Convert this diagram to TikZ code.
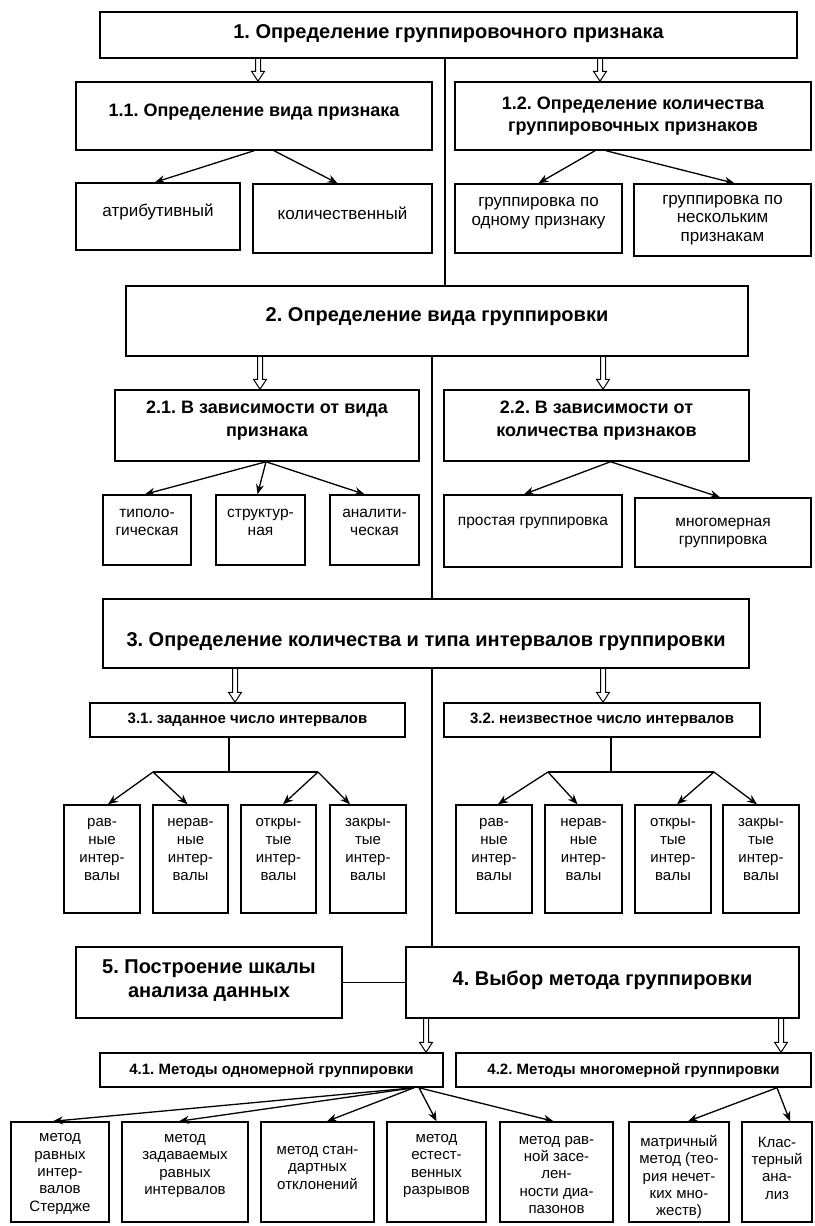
\documentclass[tikz,border=0pt]{standalone}
\usepackage{fontspec}
\setmainfont{Liberation Sans}
\frenchspacing
\usetikzlibrary{arrows.meta,calc}
\tikzset{
 box/.style={draw, line width=1.5pt, inner sep=0pt},
 txt/.style={align=center, inner sep=0pt},
 hA/.style={font=\bfseries\fontsize{20}{24}\selectfont},
 hB/.style={font=\bfseries\fontsize{18}{22.5}\selectfont},
 hC/.style={font=\bfseries\fontsize{15}{18}\selectfont},
 la/.style={font=\fontsize{17}{18.8}\selectfont},
 lc/.style={font=\fontsize{15.5}{18}\selectfont},
 li/.style={font=\fontsize{15}{18}\selectfont},
 le/.style={font=\fontsize{15}{17.3}\selectfont},
 con/.style={line width=1.3pt},
 arr/.style={con, -{Stealth[length=10pt,width=8pt]}},
 hol/.style={line width=1pt, line join=miter},
}
% #1 style, #2 name, #3 x1, #4 y1, #5 x2, #6 y2, #7 text shift down, #8 text
\newcommand{\bx}[8][]{%
 \node[box, minimum width={(#5-#3)*1pt}, minimum height={(#6-#4)*1pt}] (#2) at ({(#3+#5)/2},{(#4+#6)/2}) {};
 \node[txt,#1] (#2-t) at ([yshift={-1pt*(#7)}]#2.center) {#8};
}
% hollow arrow from node #1 to node #2 at x of coordinate #3
\newcommand{\harr}[3]{%
 \draw[hol] ($(#1.south -| #3)+(-2.5,0)$) -- ($(#2.north -| #3)+(-2.5,-10)$) -- ($(#2.north -| #3)+(-6.5,-10)$) -- (#2.north -| #3) -- ($(#2.north -| #3)+(6.5,-10)$) -- ($(#2.north -| #3)+(2.5,-10)$) -- ($(#1.south -| #3)+(2.5,0)$);}
\begin{document}
\begin{tikzpicture}[x=1pt,y=-1pt]
\useasboundingbox (0,0) rectangle (814,1226);
% level 1
\bx[hA]{b1}{100}{12}{797}{58}{-1}{1. Определение группировочного признака}
\bx[hB]{b11}{76}{82}{432}{150}{-4}{1.1. Определение вида признака}
\bx[hB]{b12}{455}{82}{811}{150}{0}{1.2. Определение количества\\группировочных признаков}
\bx[la]{a1}{76}{183}{240}{250}{-5}{атрибутивный}
\bx[la]{a2}{253}{184}{432}{253}{-5}{количественный}
\bx[la]{a3}{455}{184}{622}{253}{-5}{группировка по\\одному признаку}
\bx[la]{a4}{634}{184}{811}{256}{0}{группировка по\\нескольким\\признакам}
% level 2
\bx[hA]{b2}{126}{286}{748}{356}{-4}{2. Определение вида группировки}
\bx[hB]{b21}{115}{390}{419}{461}{-5}{2.1. В зависимости от вида\\признака}
\bx[hB]{b22}{444}{390}{749}{461}{-5}{2.2. В зависимости от\\количества признаков}
\bx[lc]{c1}{103}{495}{191}{565}{-8}{типоло-\\гическая}
\bx[lc]{c2}{216}{495}{305}{565}{-8}{структур-\\ная}
\bx[lc]{c3}{330}{495}{419}{565}{-8}{аналити-\\ческая}
\bx[lc]{c4}{444}{495}{622}{567}{-8}{простая группировка}
\bx[lc]{c5}{635}{498}{811}{567}{0}{многомерная\\группировка}
% level 3
\bx[hA]{b3}{103}{599}{749}{668}{8}{3. Определение количества и типа интервалов группировки}
\bx[hC]{b31}{90}{703}{405}{737}{0}{3.1. заданное число интервалов}
\bx[hC]{b32}{444}{703}{760}{737}{0}{3.2. неизвестное число интервалов}
\bx[li]{i1}{64}{805}{140}{913}{-9}{рав-\\ные\\интер-\\валы}
\bx[li]{i2}{153}{805}{228}{913}{-9}{нерав-\\ные\\интер-\\валы}
\bx[li]{i3}{241}{805}{316}{913}{-9}{откры-\\тые\\интер-\\валы}
\bx[li]{i4}{330}{805}{406}{913}{-9}{закры-\\тые\\интер-\\валы}
\bx[li]{j1}{456}{805}{532}{913}{-9}{рав-\\ные\\интер-\\валы}
\bx[li]{j2}{545}{805}{622}{913}{-9}{нерав-\\ные\\интер-\\валы}
\bx[li]{j3}{635}{805}{711}{913}{-9}{откры-\\тые\\интер-\\валы}
\bx[li]{j4}{723}{805}{799}{913}{-9}{закры-\\тые\\интер-\\валы}
% level 4/5
\bx[hA]{b5}{76}{947}{342}{1018}{-2}{5. Построение шкалы\\анализа данных}
\bx[hA]{b4}{406}{947}{799}{1018}{-2}{4. Выбор метода группировки}
\bx[hC]{b41}{100}{1053}{443}{1087}{0}{4.1. Методы одномерной группировки}
\bx[hC]{b42}{456}{1053}{811}{1087}{0}{4.2. Методы многомерной группировки}
\bx[le]{e1}{11}{1122}{109}{1222}{2}{метод\\равных\\интер-\\валов\\Стердже}
\bx[le]{e2}{122}{1122}{248}{1222}{-6}{метод\\задаваемых\\равных\\интервалов}
\bx[le]{e3}{261}{1122}{374}{1222}{-4}{метод стан-\\дартных\\отклонений}
\bx[le]{e4}{387}{1122}{486}{1222}{-6}{метод\\естест-\\венных\\разрывов}
\bx[le]{e5}{500}{1122}{613}{1222}{3}{метод рав-\\ной засе-\\лен-\\ности диа-\\пазонов}
\bx[le]{e6}{629}{1122}{729}{1222}{5}{матричный\\метод (тео-\\рия нечет-\\ких мно-\\жеств)}
\bx[le]{e7}{742}{1122}{812}{1222}{-4}{Клас-\\терный\\ана-\\лиз}
% helper coordinates
\coordinate (m1) at (445,0);
\coordinate (m2) at (432,0);
\coordinate (h1) at (258,0);
\coordinate (h2) at (600,0);
\coordinate (h3) at (260,0);
\coordinate (h4) at (603,0);
\coordinate (h5) at (235,0);
\coordinate (h6) at (603,0);
\coordinate (h7) at (426,0);
\coordinate (h8) at (781,0);
% central line
\draw[con] (b1.south -| m1) -- (b2.north -| m1);
\draw[con] (b2.south -| m2) -- (b3.north -| m2);
\draw[con] (b3.south -| m2) -- (b4.north -| m2);
\draw[con] (b5.east) -- (b4.west);
% hollow arrows
\harr{b1}{b11}{h1}
\harr{b1}{b12}{h2}
\harr{b2}{b21}{h3}
\harr{b2}{b22}{h4}
\harr{b3}{b31}{h5}
\harr{b3}{b32}{h6}
\harr{b4}{b41}{h7}
\harr{b4}{b42}{h8}
% level 1 arrows
\draw[arr] (b11.south) -- ([xshift=-3pt]a1.north);
\draw[arr] ([xshift=20pt]b11.south) -- ([xshift=-5pt]a2.north);
\draw[arr] ([xshift=-38pt]b12.south) -- (a3.north);
\draw[arr] ([xshift=-27pt]b12.south) -- ([xshift=12pt]a4.north);
% level 2 arrows
\draw[arr] ([xshift=-1pt]b21.south) -- ([xshift=-2pt]c1.north);
\draw[arr] ([xshift=-1pt]b21.south) -- ([xshift=-3pt]c2.north);
\draw[arr] ([xshift=-1pt]b21.south) -- ([xshift=-10pt]c3.north);
\draw[arr] ([xshift=14pt]b22.south) -- ([xshift=-9pt]c4.north);
\draw[arr] ([xshift=14pt]b22.south) -- ([xshift=-3pt]c5.north);
% level 3 forks
\coordinate (k1) at (229,772);
\coordinate (f1) at (153,772);
\coordinate (f2) at (318,772);
\draw[con] (b31.south -| k1) -- (k1);
\draw[con] (f1) -- (f2);
\draw[arr] (f1) -- ([xshift=6pt]i1.north);
\draw[arr] (f1) -- ([xshift=-3pt]i2.north);
\draw[arr] (f2) -- ([xshift=4.5pt]i3.north);
\draw[arr] (f2) -- ([xshift=-18pt]i4.north);
\coordinate (k2) at (611,772);
\coordinate (f3) at (548,772);
\coordinate (f4) at (714,772);
\draw[con] (b32.south -| k2) -- (k2);
\draw[con] (f3) -- (f4);
\draw[arr] (f3) -- ([xshift=4pt]j1.north);
\draw[arr] (f3) -- ([xshift=-6pt]j2.north);
\draw[arr] (f4) -- ([xshift=4pt]j3.north);
\draw[arr] (f4) -- ([xshift=-4pt]j4.north);
% level 4 arrows
\draw[arr] ([xshift=142.5pt]b41.south) -- ([xshift=-7pt]e1.north);
\draw[arr] ([xshift=142.5pt]b41.south) -- ([xshift=-6pt]e2.north);
\draw[arr] ([xshift=142.5pt]b41.south) -- ([xshift=9.5pt]e3.north);
\draw[arr] ([xshift=147.5pt]b41.south) -- (e4.north);
\draw[arr] ([xshift=147.5pt]b41.south) -- ([xshift=-3pt]e5.north);
\draw[arr] ([xshift=143.5pt]b42.south) -- ([xshift=9pt]e6.north);
\draw[arr] ([xshift=143.5pt]b42.south) -- ([xshift=13pt]e7.north);
\end{tikzpicture}
\end{document}
